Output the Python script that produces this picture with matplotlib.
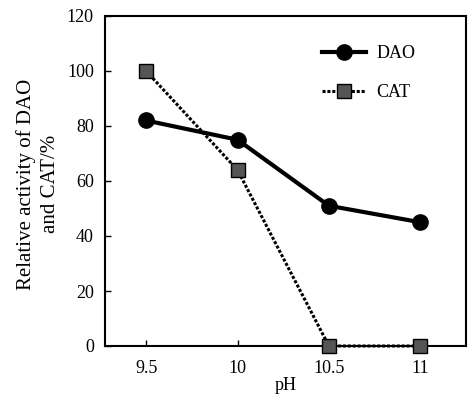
import matplotlib
matplotlib.use("Agg")
import matplotlib.pyplot as plt

ph_labels = ["9.5", "10", "10.5", "11"]
dao = [82, 75, 51, 45]
cat = [100, 64, 0, 0]

plt.rcParams['font.family'] = ['Liberation Serif', 'DejaVu Serif']

fig = plt.figure(figsize=(4.74, 3.96), dpi=100)
ax = fig.add_axes([105/474, 1-346/396, (466-105)/474, (346-16)/396])

x = list(range(len(ph_labels)))
ax.plot(x, cat, color='black', lw=2.2, ls=(0, (1, 0.6)), marker='s', ms=10,
        markerfacecolor='#555555', markeredgecolor='black', markeredgewidth=1.0,
        label='CAT', zorder=3, clip_on=False)
ax.plot(x, dao, color='black', lw=3.0, ls='-', marker='o', ms=11,
        markerfacecolor='black', markeredgecolor='black',
        label='DAO', zorder=4, clip_on=False)

ax.set_xlim(-0.45, 3.5)
ax.set_ylim(0, 120)
ax.set_yticks([0, 20, 40, 60, 80, 100, 120])
ax.set_xticks(x)
ax.set_xticklabels(ph_labels)
ax.tick_params(direction='in', length=4, width=1, labelsize=13, pad=8)
ax.tick_params(axis='x', pad=10)

for s in ['left', 'bottom']:
    ax.spines[s].set_linewidth(1.5)
for s in ['top', 'right']:
    ax.spines[s].set_linewidth(1.5)
    ax.spines[s].set_linestyle((0, (1, 1)))

ax.set_xlabel('pH', fontsize=13, labelpad=0)
ax.set_ylabel('Relative activity of DAO\nand CAT/%', fontsize=15,
              linespacing=1.35)
ax.yaxis.set_label_coords(-0.125, 0.49)

h, l = ax.get_legend_handles_labels()
leg = ax.legend([h[1], h[0]], [l[1], l[0]], loc='upper right',
                bbox_to_anchor=(0.905, 0.96), frameon=False, fontsize=13,
                handlelength=2.4, labelspacing=1.2, handletextpad=0.6)

fig.savefig('out.png', dpi=100)
